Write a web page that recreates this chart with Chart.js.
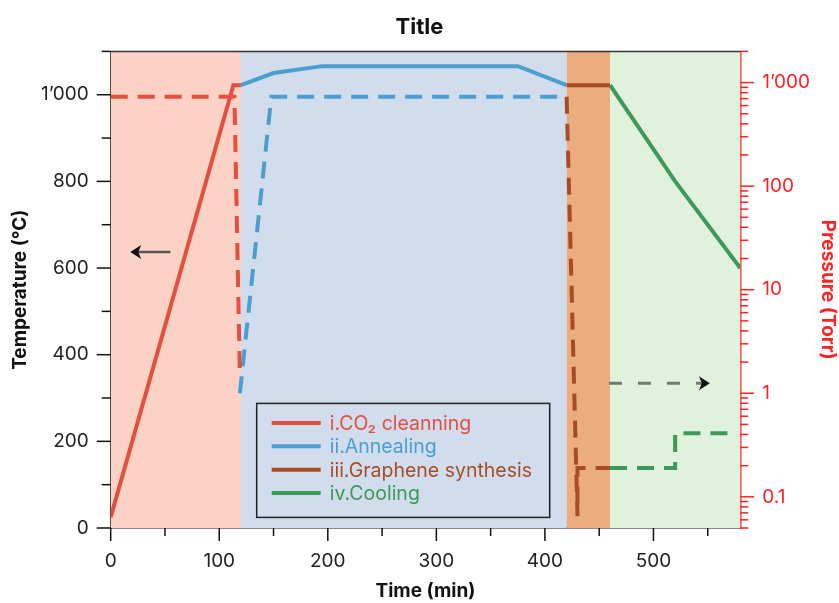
<!DOCTYPE html>
<html>
<head>
<meta charset="utf-8">
<script src="https://cdn.jsdelivr.net/npm/chart.js@4"></script>
<style>
  body { margin: 0; background: #fff; }
  canvas { display: block; }
</style>
</head>
<body>
<canvas id="myChart" width="839" height="603"></canvas>
<script>
// phases of the process (background bands)
const phaseNames = ["i.CO₂ cleanning", "ii.Annealing", "iii.Graphene synthesis", "iv.Cooling"];
const phaseStart = [0, 120, 420, 460];
const phaseEnd = [120, 420, 460, 580];
const phaseColors = ["#e4503f", "#4b9fd0", "#a64d25", "#3d9958"];
const phaseFills = ["#fcd2c6", "#d1ddec", "#ebac80", "#e0f2dc"];

// temperature (solid lines, left axis)
const tempTime = [
  [0, 113, 120],
  [120, 150, 195, 375, 420],
  [420, 460],
  [460, 520, 580],
];
const tempValue = [
  [25, 1022, 1022],
  [1022, 1050, 1066, 1066, 1022],
  [1022, 1022],
  [1022, 800, 600],
];

// pressure (dashed lines, right log axis)
const presTime = [
  [0, 114, 119],
  [119, 148, 420],
  [420, 430, 430, 460],
  [460, 520, 520, 575],
];
const presValue = [
  [730, 730, 1.45],
  [1.0, 730, 730],
  [730, 0.065, 0.19, 0.19],
  [0.19, 0.19, 0.41, 0.41],
];

// axis ticks
const timeTicks = [0, 50, 100, 150, 200, 250, 300, 350, 400, 450, 500, 550];
const tempTicks = [0, 100, 200, 300, 400, 500, 600, 700, 800, 900, 1000, 1100];
const presTicks = [];
[0.01, 0.1, 1, 10, 100, 1000].forEach((d) => {
  for (let m = 1; m < 10; m++) {
    const v = +(d * m).toPrecision(3);
    if (v >= 0.05 && v <= 2000) presTicks.push(v);
  }
});

// arrows [x, y] in data units
const leftArrow = { from: [55, 637], to: [18, 637] };
const rightArrow = { from: [459, 1.25], to: [552, 1.25] };

const FONT = "Inter, 'Liberation Sans', sans-serif";
const PRES_RED = "#ff2222";

const fmt = (v) => (v >= 1000 ? Math.floor(v / 1000) + "’" + String(v % 1000).padStart(3, "0") : String(v));
const isDecade = (v) => Math.abs(Math.log10(v) - Math.round(Math.log10(v))) < 1e-9;

const datasets = [];
tempTime.forEach((xs, i) => {
  datasets.push({
    label: phaseNames[i],
    data: xs.map((x, j) => ({ x: x, y: tempValue[i][j] })),
    yAxisID: "y",
    borderColor: phaseColors[i],
    borderWidth: 4,
    pointRadius: 0,
    tension: 0,
  });
});
presTime.forEach((xs, i) => {
  datasets.push({
    label: phaseNames[i] + " (pressure)",
    data: xs.map((x, j) => ({ x: x, y: presValue[i][j] })),
    yAxisID: "yP",
    borderColor: phaseColors[i],
    borderWidth: 4,
    borderDash: [17, 10],
    pointRadius: 0,
    tension: 0,
  });
});

const bands = {
  id: "bands",
  beforeDatasetsDraw(chart) {
    const { ctx, chartArea, scales } = chart;
    ctx.save();
    phaseStart.forEach((s, i) => {
      const x1 = scales.x.getPixelForValue(s);
      const x2 = scales.x.getPixelForValue(phaseEnd[i]);
      ctx.fillStyle = phaseFills[i];
      ctx.fillRect(x1, chartArea.top, x2 - x1, chartArea.bottom - chartArea.top);
    });
    ctx.restore();
  },
};

function arrowHead(ctx, x, y, dir) {
  ctx.beginPath();
  ctx.moveTo(x, y);
  ctx.lineTo(x - dir * 11, y - 7);
  ctx.lineTo(x - dir * 8, y);
  ctx.lineTo(x - dir * 11, y + 7);
  ctx.closePath();
  ctx.fill();
}

const extras = {
  id: "extras",
  afterDraw(chart) {
    const { ctx, chartArea, scales } = chart;
    const { x, y, yP } = scales;
    ctx.save();

    // top frame line
    ctx.strokeStyle = "#333";
    ctx.lineWidth = 1.5;
    ctx.beginPath();
    ctx.moveTo(chartArea.left, chartArea.top);
    ctx.lineTo(chartArea.right, chartArea.top);
    ctx.stroke();

    // tick marks
    ctx.strokeStyle = "#111";
    x.ticks.forEach((t) => {
      const px = x.getPixelForValue(t.value);
      const len = t.value % 100 === 0 ? 13 : 8;
      ctx.beginPath();
      ctx.moveTo(px, chartArea.bottom);
      ctx.lineTo(px, chartArea.bottom + len);
      ctx.stroke();
    });
    y.ticks.forEach((t) => {
      const py = y.getPixelForValue(t.value);
      const len = t.value % 200 === 0 ? 14 : 9;
      ctx.beginPath();
      ctx.moveTo(chartArea.left, py);
      ctx.lineTo(chartArea.left - len, py);
      ctx.stroke();
    });
    ctx.strokeStyle = PRES_RED;
    yP.ticks.forEach((t) => {
      const py = yP.getPixelForValue(t.value);
      const len = isDecade(t.value) ? 14 : 8;
      ctx.beginPath();
      ctx.moveTo(chartArea.right, py);
      ctx.lineTo(chartArea.right + len, py);
      ctx.stroke();
    });

    // arrows
    const ax1 = x.getPixelForValue(leftArrow.from[0]);
    const ax2 = x.getPixelForValue(leftArrow.to[0]);
    const ay = y.getPixelForValue(leftArrow.from[1]);
    ctx.strokeStyle = "#555";
    ctx.lineWidth = 2.5;
    ctx.beginPath();
    ctx.moveTo(ax1, ay);
    ctx.lineTo(ax2 + 6, ay);
    ctx.stroke();
    ctx.fillStyle = "#111";
    arrowHead(ctx, ax2, ay, -1);

    const bx1 = x.getPixelForValue(rightArrow.from[0]);
    const bx2 = x.getPixelForValue(rightArrow.to[0]);
    const by = yP.getPixelForValue(rightArrow.from[1]);
    ctx.strokeStyle = "#6e7a6e";
    ctx.lineWidth = 3;
    ctx.setLineDash([13, 16]);
    ctx.beginPath();
    ctx.moveTo(bx1, by);
    ctx.lineTo(bx2 - 6, by);
    ctx.stroke();
    ctx.setLineDash([]);
    arrowHead(ctx, bx2, by, 1);

    // legend box
    const lx = chartArea.left + 146;
    const ly = chartArea.top + 352;
    const lw = 293;
    const lh = 114;
    ctx.strokeStyle = "#222";
    ctx.lineWidth = 1.5;
    ctx.strokeRect(lx, ly, lw, lh);
    ctx.font = "19.5px " + FONT;
    ctx.textBaseline = "middle";
    phaseNames.forEach((name, i) => {
      const ry = ly + 19.5 + i * 23.4;
      ctx.strokeStyle = phaseColors[i];
      ctx.lineWidth = 4;
      ctx.beginPath();
      ctx.moveTo(lx + 15, ry);
      ctx.lineTo(lx + 64, ry);
      ctx.stroke();
      ctx.fillStyle = phaseColors[i];
      ctx.fillText(name, lx + 73, ry + 1);
    });
    ctx.restore();
  },
};

const tickFont = { family: FONT, size: 19 };
const titleFont = { family: FONT, size: 19, weight: "bold" };

new Chart(document.getElementById("myChart"), {
  type: "line",
  data: { datasets: datasets },
  options: {
    responsive: false,
    animation: false,
    devicePixelRatio: 1,
    layout: { padding: 0 },
    plugins: {
      legend: { display: false },
      tooltip: { enabled: false },
      title: {
        display: true,
        text: "Title",
        color: "#111",
        font: { family: FONT, size: 22, weight: "bold" },
        padding: { top: 14, bottom: 11 },
      },
    },
    scales: {
      x: {
        type: "linear",
        min: 0,
        max: 580,
        afterBuildTicks: (s) => { s.ticks = timeTicks.map((v) => ({ value: v })); },
        afterFit: (s) => { s.height = 75; },
        grid: { display: false, drawTicks: false },
        border: { color: "#111", width: 1.5 },
        ticks: {
          autoSkip: false,
          maxRotation: 0,
          padding: 22,
          color: "#222",
          font: tickFont,
          callback: (v) => (v % 100 === 0 ? String(v) : ""),
        },
        title: { display: true, text: "Time (min)", color: "#111", font: titleFont, padding: 0 },
      },
      y: {
        type: "linear",
        position: "left",
        min: 0,
        max: 1100,
        afterBuildTicks: (s) => { s.ticks = tempTicks.map((v) => ({ value: v })); },
        afterFit: (s) => { s.width = 110.7; },
        grid: { display: false, drawTicks: false },
        border: { color: "#111", width: 1.5 },
        ticks: {
          autoSkip: false,
          padding: 22,
          color: "#222",
          font: tickFont,
          callback: (v) => (v % 200 === 0 ? fmt(v) : ""),
        },
        title: { display: true, text: "Temperature (°C)", color: "#111", font: titleFont, padding: { top: 9, bottom: 0 } },
      },
      yP: {
        type: "logarithmic",
        position: "right",
        min: 0.05,
        max: 2000,
        afterBuildTicks: (s) => { s.ticks = presTicks.map((v) => ({ value: v })); },
        afterFit: (s) => { s.width = 98.7; },
        grid: { display: false, drawTicks: false },
        border: { color: PRES_RED, width: 1.5 },
        ticks: {
          autoSkip: false,
          padding: 22,
          color: PRES_RED,
          font: tickFont,
          callback: (v) => (isDecade(v) ? fmt(v) : ""),
        },
        title: { display: true, text: "Pressure (Torr)", color: PRES_RED, font: titleFont, padding: { top: 0, bottom: 0 } },
      },
    },
  },
  plugins: [bands, extras],
});
</script>
</body>
</html>
